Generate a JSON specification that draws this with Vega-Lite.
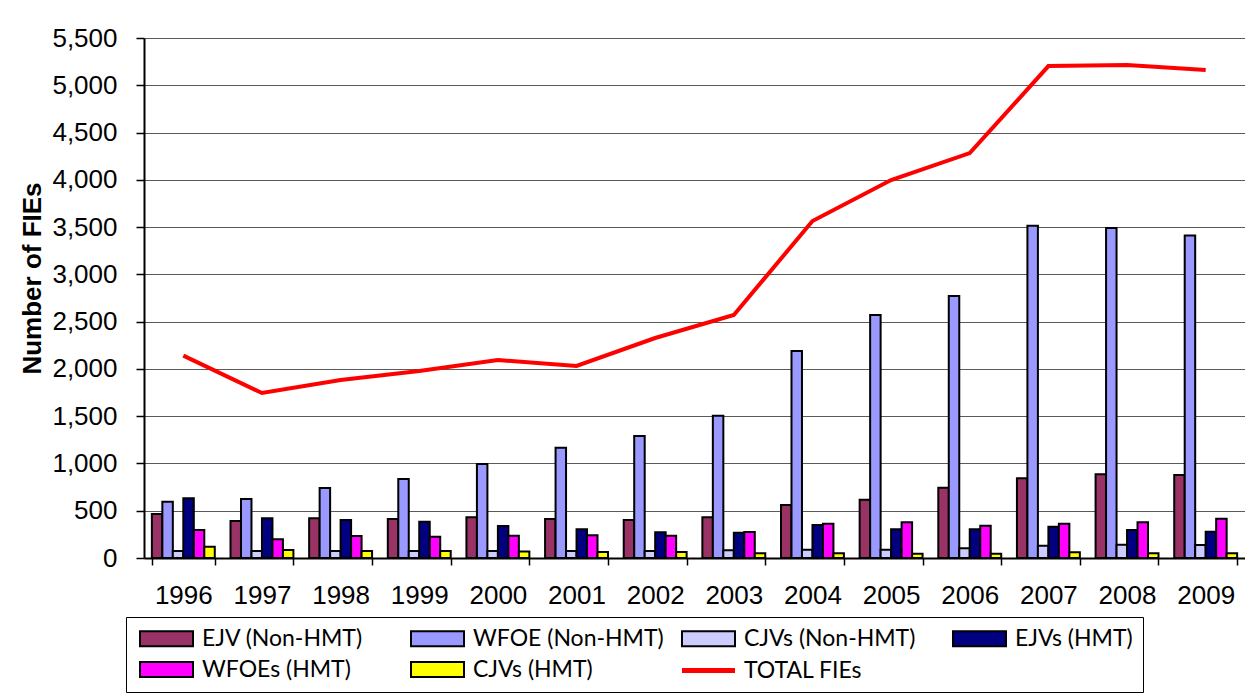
{
  "$schema": "https://vega.github.io/schema/vega-lite/v6.json",
  "width": 1101,
  "height": 520,
  "autosize": {"type": "none"},
  "padding": {"left": 144, "top": 38, "right": 0, "bottom": 138},
  "background": "white",
  "config": {"view": {"stroke": null}, "font": "Liberation Sans"},
  "datasets": {
    "bars": [
      {"year": "1996", "series": "EJV (Non-HMT)", "value": 465},
      {"year": "1996", "series": "WFOE (Non-HMT)", "value": 595},
      {"year": "1996", "series": "CJVs (Non-HMT)", "value": 74},
      {"year": "1996", "series": "EJVs (HMT)", "value": 631},
      {"year": "1996", "series": "WFOEs (HMT)", "value": 296},
      {"year": "1996", "series": "CJVs (HMT)", "value": 120},
      {"year": "1997", "series": "EJV (Non-HMT)", "value": 391},
      {"year": "1997", "series": "WFOE (Non-HMT)", "value": 624},
      {"year": "1997", "series": "CJVs (Non-HMT)", "value": 74},
      {"year": "1997", "series": "EJVs (HMT)", "value": 420},
      {"year": "1997", "series": "WFOEs (HMT)", "value": 198},
      {"year": "1997", "series": "CJVs (HMT)", "value": 85},
      {"year": "1998", "series": "EJV (Non-HMT)", "value": 420},
      {"year": "1998", "series": "WFOE (Non-HMT)", "value": 740},
      {"year": "1998", "series": "CJVs (Non-HMT)", "value": 74},
      {"year": "1998", "series": "EJVs (HMT)", "value": 402},
      {"year": "1998", "series": "WFOEs (HMT)", "value": 233},
      {"year": "1998", "series": "CJVs (HMT)", "value": 74},
      {"year": "1999", "series": "EJV (Non-HMT)", "value": 412},
      {"year": "1999", "series": "WFOE (Non-HMT)", "value": 835},
      {"year": "1999", "series": "CJVs (Non-HMT)", "value": 74},
      {"year": "1999", "series": "EJVs (HMT)", "value": 384},
      {"year": "1999", "series": "WFOEs (HMT)", "value": 226},
      {"year": "1999", "series": "CJVs (HMT)", "value": 74},
      {"year": "2000", "series": "EJV (Non-HMT)", "value": 430},
      {"year": "2000", "series": "WFOE (Non-HMT)", "value": 995},
      {"year": "2000", "series": "CJVs (Non-HMT)", "value": 74},
      {"year": "2000", "series": "EJVs (HMT)", "value": 338},
      {"year": "2000", "series": "WFOEs (HMT)", "value": 236},
      {"year": "2000", "series": "CJVs (HMT)", "value": 70},
      {"year": "2001", "series": "EJV (Non-HMT)", "value": 412},
      {"year": "2001", "series": "WFOE (Non-HMT)", "value": 1165},
      {"year": "2001", "series": "CJVs (Non-HMT)", "value": 74},
      {"year": "2001", "series": "EJVs (HMT)", "value": 303},
      {"year": "2001", "series": "WFOEs (HMT)", "value": 240},
      {"year": "2001", "series": "CJVs (HMT)", "value": 63},
      {"year": "2002", "series": "EJV (Non-HMT)", "value": 402},
      {"year": "2002", "series": "WFOE (Non-HMT)", "value": 1290},
      {"year": "2002", "series": "CJVs (Non-HMT)", "value": 74},
      {"year": "2002", "series": "EJVs (HMT)", "value": 272},
      {"year": "2002", "series": "WFOEs (HMT)", "value": 236},
      {"year": "2002", "series": "CJVs (HMT)", "value": 63},
      {"year": "2003", "series": "EJV (Non-HMT)", "value": 430},
      {"year": "2003", "series": "WFOE (Non-HMT)", "value": 1505},
      {"year": "2003", "series": "CJVs (Non-HMT)", "value": 81},
      {"year": "2003", "series": "EJVs (HMT)", "value": 268},
      {"year": "2003", "series": "WFOEs (HMT)", "value": 275},
      {"year": "2003", "series": "CJVs (HMT)", "value": 49},
      {"year": "2004", "series": "EJV (Non-HMT)", "value": 560},
      {"year": "2004", "series": "WFOE (Non-HMT)", "value": 2190},
      {"year": "2004", "series": "CJVs (Non-HMT)", "value": 88},
      {"year": "2004", "series": "EJVs (HMT)", "value": 349},
      {"year": "2004", "series": "WFOEs (HMT)", "value": 363},
      {"year": "2004", "series": "CJVs (HMT)", "value": 49},
      {"year": "2005", "series": "EJV (Non-HMT)", "value": 617},
      {"year": "2005", "series": "WFOE (Non-HMT)", "value": 2570},
      {"year": "2005", "series": "CJVs (Non-HMT)", "value": 88},
      {"year": "2005", "series": "EJVs (HMT)", "value": 303},
      {"year": "2005", "series": "WFOEs (HMT)", "value": 377},
      {"year": "2005", "series": "CJVs (HMT)", "value": 46},
      {"year": "2006", "series": "EJV (Non-HMT)", "value": 744},
      {"year": "2006", "series": "WFOE (Non-HMT)", "value": 2770},
      {"year": "2006", "series": "CJVs (Non-HMT)", "value": 102},
      {"year": "2006", "series": "EJVs (HMT)", "value": 303},
      {"year": "2006", "series": "WFOEs (HMT)", "value": 342},
      {"year": "2006", "series": "CJVs (HMT)", "value": 46},
      {"year": "2007", "series": "EJV (Non-HMT)", "value": 843},
      {"year": "2007", "series": "WFOE (Non-HMT)", "value": 3515},
      {"year": "2007", "series": "CJVs (Non-HMT)", "value": 130},
      {"year": "2007", "series": "EJVs (HMT)", "value": 331},
      {"year": "2007", "series": "WFOEs (HMT)", "value": 363},
      {"year": "2007", "series": "CJVs (HMT)", "value": 60},
      {"year": "2008", "series": "EJV (Non-HMT)", "value": 885},
      {"year": "2008", "series": "WFOE (Non-HMT)", "value": 3490},
      {"year": "2008", "series": "CJVs (Non-HMT)", "value": 141},
      {"year": "2008", "series": "EJVs (HMT)", "value": 296},
      {"year": "2008", "series": "WFOEs (HMT)", "value": 377},
      {"year": "2008", "series": "CJVs (HMT)", "value": 49},
      {"year": "2009", "series": "EJV (Non-HMT)", "value": 878},
      {"year": "2009", "series": "WFOE (Non-HMT)", "value": 3410},
      {"year": "2009", "series": "CJVs (Non-HMT)", "value": 137},
      {"year": "2009", "series": "EJVs (HMT)", "value": 278},
      {"year": "2009", "series": "WFOEs (HMT)", "value": 416},
      {"year": "2009", "series": "CJVs (HMT)", "value": 49}
    ],
    "total": [
      {"year": "1996", "series": "TOTAL FIEs", "value": 2140},
      {"year": "1997", "series": "TOTAL FIEs", "value": 1745},
      {"year": "1998", "series": "TOTAL FIEs", "value": 1883},
      {"year": "1999", "series": "TOTAL FIEs", "value": 1978},
      {"year": "2000", "series": "TOTAL FIEs", "value": 2094},
      {"year": "2001", "series": "TOTAL FIEs", "value": 2031},
      {"year": "2002", "series": "TOTAL FIEs", "value": 2327},
      {"year": "2003", "series": "TOTAL FIEs", "value": 2570},
      {"year": "2004", "series": "TOTAL FIEs", "value": 3564},
      {"year": "2005", "series": "TOTAL FIEs", "value": 3998},
      {"year": "2006", "series": "TOTAL FIEs", "value": 4283},
      {"year": "2007", "series": "TOTAL FIEs", "value": 5203},
      {"year": "2008", "series": "TOTAL FIEs", "value": 5214},
      {"year": "2009", "series": "TOTAL FIEs", "value": 5161}
    ]
  },
  "layer": [
    {
      "data": {"name": "bars"},
      "mark": {"type": "bar", "stroke": "black", "strokeWidth": 2},
      "encoding": {
        "x": {
          "field": "year", "type": "ordinal",
          "scale": {"paddingInner": 0.2, "paddingOuter": 0.1},
          "axis": {
            "title": null, "labelAngle": 0, "labelFontSize": 26, "labelColor": "black",
            "tickBand": "extent", "tickSize": 7, "tickColor": "black", "tickWidth": 1.5,
            "domainColor": "black", "domainWidth": 2, "labelPadding": 17, "grid": false
          }
        },
        "xOffset": {
          "field": "series", "type": "nominal",
          "scale": {"domain": ["EJV (Non-HMT)", "WFOE (Non-HMT)", "CJVs (Non-HMT)", "EJVs (HMT)", "WFOEs (HMT)", "CJVs (HMT)"], "paddingInner": 0, "paddingOuter": 0}
        },
        "y": {
          "field": "value", "type": "quantitative",
          "scale": {"domain": [0, 5500], "nice": false},
          "axis": {
            "title": "Number of FIEs", "titleFontSize": 26, "titleFontWeight": "bold", "titleColor": "black",
            "titlePadding": 6, "titleY": 240,
            "values": [0, 500, 1000, 1500, 2000, 2500, 3000, 3500, 4000, 4500, 5000, 5500],
            "format": ",d", "labelFontSize": 26, "labelColor": "black", "labelPadding": 19,
            "tickSize": 8, "tickColor": "black", "tickWidth": 1.5,
            "domainColor": "black", "domainWidth": 2,
            "grid": true, "gridColor": "#5a5a5a", "gridWidth": 1
          }
        },
        "fill": {
          "field": "series", "type": "nominal",
          "scale": {
            "domain": ["EJV (Non-HMT)", "WFOE (Non-HMT)", "CJVs (Non-HMT)", "EJVs (HMT)", "WFOEs (HMT)", "CJVs (HMT)"],
            "range": ["#993366", "#9999FF", "#CCCCFF", "#000080", "#FF00FF", "#FFFF00"]
          },
          "legend": {
            "title": null, "orient": "none", "legendX": -18, "legendY": 579,
            "direction": "horizontal",
            "columns": 4, "gridAlign": "all", "columnPadding": 14, "rowPadding": 7,
            "padding": 10, "strokeColor": "black",
            "labelFont": "Lato", "labelFontSize": 23, "labelColor": "black", "labelOffset": 43, "labelLimit": 400,
            "symbolSize": 225, "symbolOpacity": 1,
            "symbolType": "M-1,-1H6.067V1H-1Z",
            "symbolStrokeColor": "black", "symbolStrokeWidth": 2
          }
        }
      }
    },
    {
      "data": {"name": "total"},
      "mark": {"type": "line", "strokeWidth": 4},
      "encoding": {
        "x": {"field": "year", "type": "ordinal"},
        "y": {"field": "value", "type": "quantitative"},
        "stroke": {
          "field": "series", "type": "nominal",
          "scale": {"domain": ["TOTAL FIEs"], "range": ["#FF0000"]},
          "legend": {
            "title": null, "orient": "none", "legendX": 534, "legendY": 621,
            "padding": 0,
            "labelFont": "Lato", "labelFontSize": 23, "labelColor": "black", "labelOffset": 43, "labelLimit": 400,
            "symbolSize": 225, "symbolOpacity": 1,
            "symbolType": "M-1,0H6.067",
            "symbolStrokeWidth": 5
          }
        }
      }
    }
  ]
}
